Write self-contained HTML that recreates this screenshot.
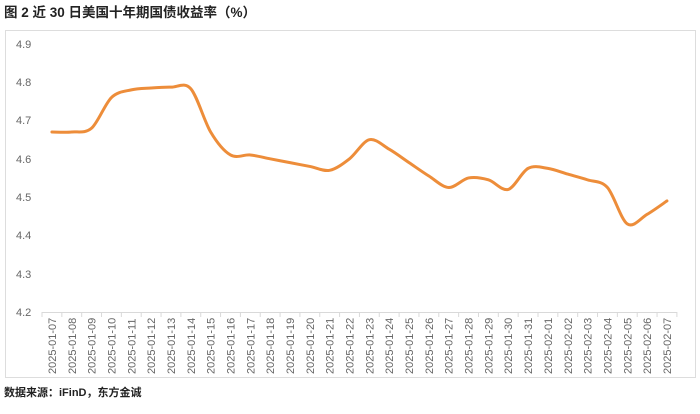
<!DOCTYPE html>
<html><head><meta charset="utf-8"><style>
body{margin:0;background:#fff;width:700px;height:409px;overflow:hidden;font-family:"Liberation Sans","Noto Sans CJK SC",sans-serif}
</style></head><body>
<svg width="700" height="409" xmlns="http://www.w3.org/2000/svg">
<text x="4" y="17" font-size="13.5" font-weight="bold" fill="#222" font-family="Liberation Sans, Noto Sans CJK SC, sans-serif">图 2  近 30 日美国十年期国债收益率（%）</text>
<rect x="5.5" y="30.5" width="690" height="347" fill="none" stroke="#ddd"/>
<g font-size="11" fill="#666" font-family="Liberation Sans, sans-serif">
<text x="16" y="48">4.9</text><text x="16" y="86">4.8</text><text x="16" y="124">4.7</text>
<text x="16" y="163">4.6</text><text x="16" y="201">4.5</text><text x="16" y="239">4.4</text>
<text x="16" y="278">4.3</text><text x="16" y="316">4.2</text>
</g>
<line x1="42" y1="312.5" x2="677" y2="312.5" stroke="#d9d9d9"/>
<g id="ticks" stroke="#d9d9d9"></g>
<g id="labels" font-size="11" fill="#666" font-family="Liberation Sans, sans-serif"></g>
<path id="line" fill="none" stroke="#ED8D3A" stroke-width="3" stroke-linejoin="round" stroke-linecap="round"/>
<text x="4" y="396" font-size="11" font-weight="bold" fill="#222" font-family="Liberation Sans, Noto Sans CJK SC, sans-serif">数据来源：iFinD，东方金诚</text>
</svg>
<script>
var d=[4.67,4.67,4.68,4.76,4.78,4.785,4.787,4.783,4.67,4.61,4.61,4.60,4.59,4.58,4.57,4.60,4.65,4.625,4.59,4.555,4.525,4.55,4.545,4.52,4.575,4.575,4.56,4.545,4.525,4.43,4.455,4.49];
var days=[];for(var i=7;i<=31;i++)days.push("2025-01-"+(i<10?"0"+i:i));for(var i=1;i<=7;i++)days.push("2025-02-0"+i);
var w=19.84,x0=42,ns="http://www.w3.org/2000/svg";
var P=d.map(function(v,i){return [x0+w*(i+0.5),312-(v-4.2)*383];});
var s="M"+P[0][0]+","+P[0][1];
for(var i=0;i<P.length-1;i++){var p0=P[i-1]||P[i],p1=P[i],p2=P[i+1],p3=P[i+2]||p2,t=0.16;
s+=" C"+(p1[0]+(p2[0]-p0[0])*t)+","+(p1[1]+(p2[1]-p0[1])*t)+" "+(p2[0]-(p3[0]-p1[0])*t)+","+(p2[1]-(p3[1]-p1[1])*t)+" "+p2[0]+","+p2[1];}
document.getElementById("line").setAttribute("d",s);
var tk=document.getElementById("ticks"),lb=document.getElementById("labels");
for(var i=0;i<=32;i++){var l=document.createElementNS(ns,"line");var x=x0+w*i;l.setAttribute("x1",x);l.setAttribute("x2",x);l.setAttribute("y1",312);l.setAttribute("y2",317);tk.appendChild(l);}
days.forEach(function(t,i){var e=document.createElementNS(ns,"text");var x=x0+w*(i+0.5)+4;e.setAttribute("transform","translate("+x+",374) rotate(-90)");e.textContent=t;lb.appendChild(e);});
</script>
</body></html>
